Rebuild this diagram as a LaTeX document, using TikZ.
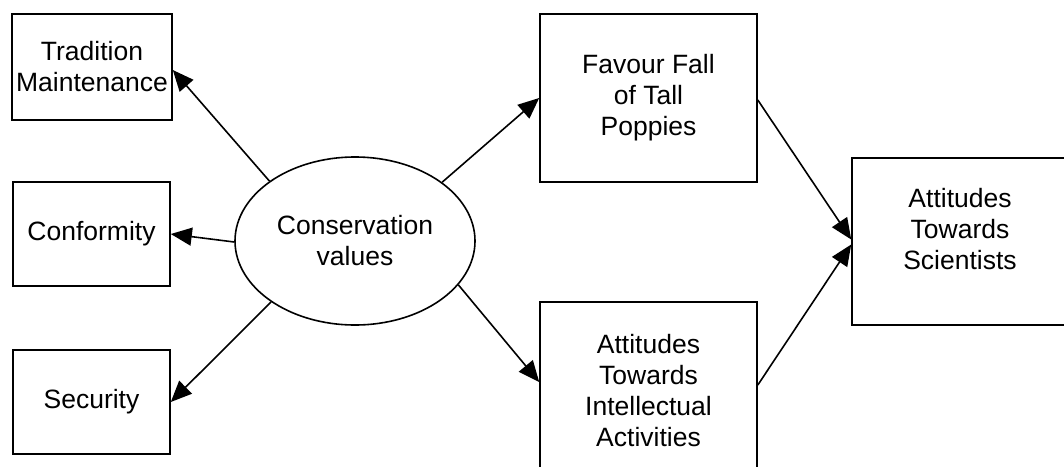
\documentclass[tikz,border=0pt]{standalone}
\usepackage{fontspec}
\setmainfont{Liberation Sans}
\usetikzlibrary{arrows.meta,shapes.geometric}

\tikzset{
  every node/.style={font=\fontsize{26.5}{31}\selectfont, align=center, inner sep=0pt},
  box/.style={draw, line width=1.6pt, rectangle},
  oval/.style={draw, line width=1.6pt, ellipse, minimum width=240pt, minimum height=168pt},
  link/.style={line width=1.6pt, -{Triangle[length=21pt,width=18pt]}}
}

\begin{document}
\begin{tikzpicture}[x=1pt,y=-1pt]
  \useasboundingbox (0,0) rectangle (1064,466);
  \clip (0,0) rectangle (1064,466);

  % value indicators on the left
  \node[box, minimum width=160pt, minimum height=106pt] (trad) at (92,67) {Tradition\\Maintenance};
  \node[box, minimum width=157pt, minimum height=104pt] (conf) at (91.5,234) {Conformity};
  \node[box, minimum width=157pt, minimum height=104pt] (sec) at (91.5,402) {Security};

  % latent construct
  \node[oval] (cons) at (355,241) {Conservation\\values};

  % mediators
  \node[box, minimum width=217pt, minimum height=168pt] (fall) at (648.5,98) {Favour Fall\\of Tall\\Poppies};
  \node[box, minimum width=217pt, minimum height=178pt] (intel) at (648.5,391) {Attitudes\\Towards\\Intellectual\\Activities};

  % outcome
  \node[box, minimum width=216pt, minimum height=167pt] (sci) at (960,241.5) {};
  \node at ([yshift=12pt]sci.center) {Attitudes\\Towards\\Scientists};

  % paths
  \draw[link] (cons.145) -- ([yshift=-3pt]trad.east);
  \draw[link] ([yshift=-1pt]cons.west) -- (conf.east);
  \draw[link] (cons.216) -- (sec.east);
  \draw[link] (cons.34) -- (fall.west);
  \draw[link] (cons.-23) -- ([yshift=9pt]intel.west);
  \draw[link] ([yshift=-2pt]fall.east) -- ([yshift=2pt]sci.west);
  \draw[link] ([yshift=6pt]intel.east) -- ([yshift=-3pt]sci.west);
\end{tikzpicture}
\end{document}
